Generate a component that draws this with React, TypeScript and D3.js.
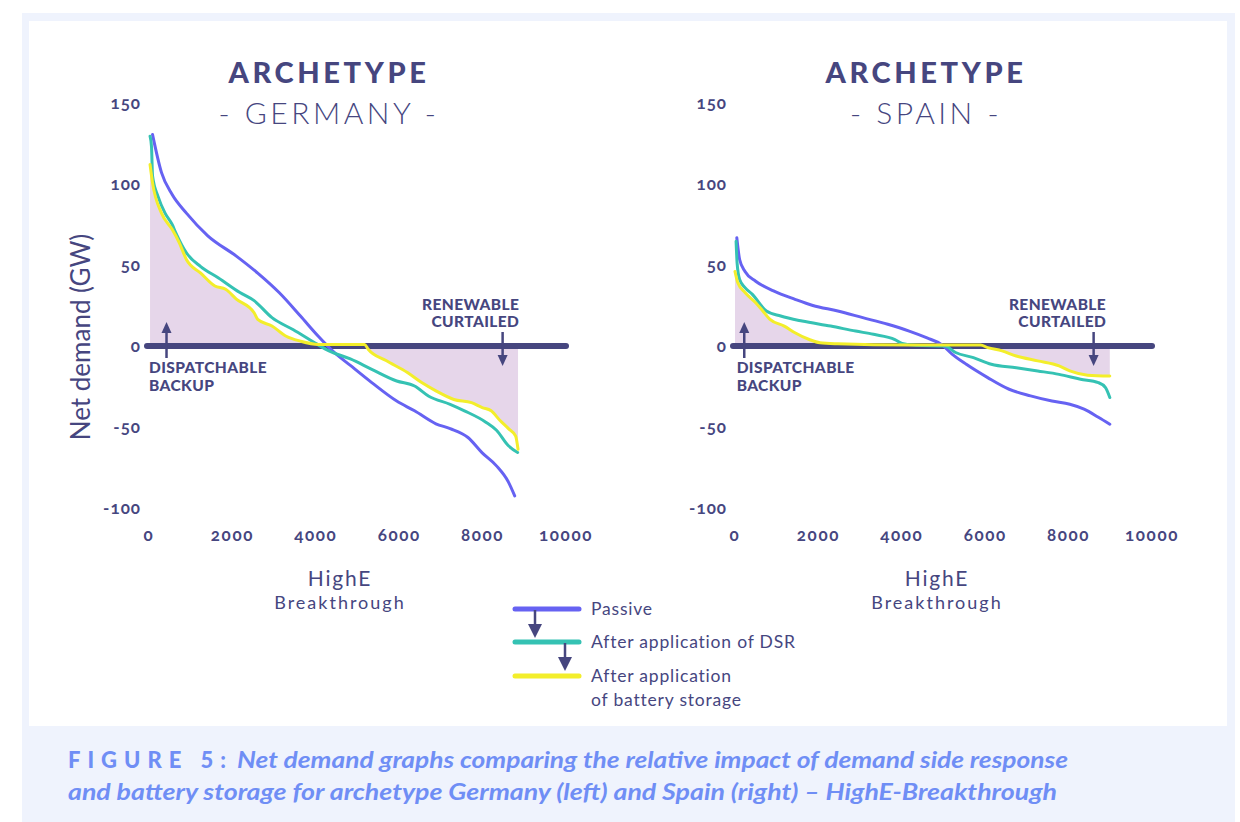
import React from "react";
import * as d3 from "d3";

// ---------- data ----------
const X_TICKS = [0, 2000, 4000, 6000, 8000, 10000];
const Y_TICKS = [150, 100, 50, 0, -50, -100];

// Germany
const DE_PASSIVE_X = [85, 300, 555, 897, 1410, 2094, 2607, 3120, 3632, 4060, 4402, 4829, 5342, 5940, 6368, 6880, 7222, 7650, 7991, 8333, 8620, 8770];
const DE_PASSIVE_Y = [130.5, 107, 93.5, 82, 68, 55.5, 45, 33, 18.5, 6, -3, -12, -22.6, -34, -40, -48, -51, -56.5, -66, -74, -84, -92.5];
const DE_DSR_X = [25, 60, 85, 214, 385, 555, 640, 897, 1240, 1667, 2180, 2521, 2949, 3462, 3974, 4316, 4829, 5342, 5940, 6368, 6710, 7222, 7564, 8077, 8333, 8620, 8840];
const DE_DSR_Y = [129.5, 123, 105, 92.5, 82, 75, 70, 57.5, 49, 42, 33, 28, 17.5, 10, 2, -3, -8, -14.4, -21.6, -24.7, -31, -36, -40, -47, -52, -61.6, -65.7];
const DE_BAT_X = [25, 85, 300, 555, 727, 897, 1240, 1581, 1838, 2094, 2521, 2607, 2949, 3291, 3632, 4060, 5171, 5256, 5684, 6197, 6539, 6880, 7308, 7735, 7991, 8205, 8419, 8620, 8790, 8850];
const DE_BAT_Y = [112, 100.7, 82, 72, 63.7, 53.4, 45, 37, 35, 29, 20.5, 16.4, 12.3, 6, 3, 1, 1, -2, -9, -16.4, -22.6, -27.7, -33, -35, -38, -40, -46, -51, -55.5, -63.7];

// Spain
const ES_PASSIVE_X = [43, 111, 240, 496, 924, 1438, 1866, 2465, 3064, 3664, 4177, 4605, 4948, 5205, 5547, 6060, 6574, 7088, 7601, 8029, 8371, 8714, 8988];
const ES_PASSIVE_Y = [66.8, 53.4, 46, 40, 34, 28.8, 25, 21.6, 17.5, 13.4, 9.2, 5, 1, -5, -11.3, -19.5, -26.7, -30.8, -34, -36, -39, -44, -48.3];
const ES_DSR_X = [26, 51, 111, 240, 411, 753, 1096, 1609, 2294, 2893, 3321, 3835, 4006, 4348, 5033, 5290, 5718, 6146, 6745, 7259, 7772, 8286, 8714, 8885, 8988];
const ES_DSR_Y = [64.7, 51, 41, 36, 32, 21.6, 18.5, 15.4, 12.3, 9.2, 7.2, 4, 1.6, 0.4, 0, -4, -7.2, -11.3, -13.4, -15.4, -17.5, -20.5, -22.6, -25.7, -31.8];
const ES_BAT_X = [0, 68, 240, 496, 668, 839, 1181, 1438, 1780, 2037, 2465, 4177, 5889, 6060, 6403, 6745, 7259, 7772, 8029, 8457, 8988];
const ES_BAT_Y = [46, 39, 33, 26.7, 21.6, 16.4, 12.3, 8.2, 4, 2, 1.4, 0.6, 0.6, -1, -3, -6.2, -9.2, -12.3, -15.4, -18, -18.5];

const LEGEND_LABELS = ["Passive", "After application of DSR", "After application", "of battery storage"];

// ---------- styles ----------
const NAVY = "#46467f";
const C_PASSIVE = "#6662f2";
const C_DSR = "#35c2b3";
const C_BAT = "#f3ee2b";
const C_FILL = "#e6d6ea";
const C_CAPTION = "#6f8ef5";
const FONT = "Lato, 'Open Sans', sans-serif";

type Pt = { x: number; y: number };
const zip = (xs: number[], ys: number[]): Pt[] => xs.map((x, i) => ({ x, y: ys[i] }));

type ChartProps = {
  x0: number;
  x1: number;
  cx: number;
  name: string;
  passive: Pt[];
  dsr: Pt[];
  bat: Pt[];
  upArrowX: number;
  downArrowX: number;
  curtailRight: number;
  backupLeft: number;
  showYLabel: boolean;
};

function Chart(p: ChartProps) {
  const x = d3.scaleLinear().domain([0, 10000]).range([p.x0, p.x1]);
  const y = d3.scaleLinear().domain([-100, 150]).range([508, 103]);
  const line = d3
    .line<Pt>()
    .x((d) => x(d.x))
    .y((d) => y(d.y))
    .curve(d3.curveMonotoneX);
  const area = d3
    .area<Pt>()
    .x((d) => x(d.x))
    .y0(y(0))
    .y1((d) => y(d.y))
    .curve(d3.curveMonotoneX);

  const ux = x(p.upArrowX);
  const dx = x(p.downArrowX);
  const y0 = y(0);
  const tickStyle = { fontVariantNumeric: "oldstyle-nums" as const };

  return (
    <g>
      {/* titles */}
      <text x={p.cx} y={83} textAnchor="middle" fontFamily={FONT} fontWeight={900} fontSize={29} letterSpacing={3.6} fill={NAVY}>
        ARCHETYPE
      </text>
      <text x={p.cx} y={124} textAnchor="middle" fontFamily={FONT} fontWeight={300} fontSize={30} letterSpacing={3.5} fill={NAVY}>
        {`- ${p.name} -`}
      </text>

      {/* y ticks */}
      {Y_TICKS.map((t) => (
        <text key={t} x={p.x0 - 8} y={y(t)} dy="0.35em" textAnchor="end" fontFamily={FONT} fontWeight={700} fontSize={17} letterSpacing={1} fill={NAVY} style={tickStyle}>
          {t}
        </text>
      ))}
      {/* x ticks */}
      {X_TICKS.map((t) => (
        <text key={t} x={x(t)} y={535} dy="0.35em" textAnchor="middle" fontFamily={FONT} fontWeight={700} fontSize={17} letterSpacing={1.6} fill={NAVY} style={tickStyle}>
          {t}
        </text>
      ))}

      {/* x label */}
      <text x={p.cx + 11} y={586} textAnchor="middle" fontFamily={FONT} fontSize={21} letterSpacing={1.8} fill={NAVY}>
        HighE
      </text>
      <text x={p.cx + 11} y={609} textAnchor="middle" fontFamily={FONT} fontSize={18} letterSpacing={2} fill={NAVY}>
        Breakthrough
      </text>

      {p.showYLabel && (
        <text transform={`translate(90,${337}) rotate(-90)`} textAnchor="middle" fontFamily={FONT} fontSize={26} fill={NAVY}>
          Net demand (GW)
        </text>
      )}

      {/* fill */}
      <path d={area(p.bat) || ""} fill={C_FILL} />

      {/* zero line */}
      <line x1={x(0) - 2} x2={x(10000)} y1={y0} y2={y0} stroke={NAVY} strokeWidth={6} strokeLinecap="round" />

      {/* curves */}
      <path d={line(p.passive) || ""} fill="none" stroke={C_PASSIVE} strokeWidth={3} strokeLinejoin="round" strokeLinecap="round" />
      <path d={line(p.dsr) || ""} fill="none" stroke={C_DSR} strokeWidth={3} strokeLinejoin="round" strokeLinecap="round" />
      <path d={line(p.bat) || ""} fill="none" stroke={C_BAT} strokeWidth={3} strokeLinejoin="round" strokeLinecap="round" />

      {/* dispatchable backup */}
      <line x1={ux} x2={ux} y1={y0 + 12} y2={y0 - 14} stroke={NAVY} strokeWidth={2.5} />
      <path d={`M${ux - 5},${y0 - 13} L${ux + 5},${y0 - 13} L${ux},${y0 - 24} Z`} fill={NAVY} />
      <text x={x(p.backupLeft)} y={373} fontFamily={FONT} fontWeight={900} fontSize={15.5} letterSpacing={0.4} fill={NAVY}>
        DISPATCHABLE
      </text>
      <text x={x(p.backupLeft)} y={391} fontFamily={FONT} fontWeight={900} fontSize={15.5} letterSpacing={0.4} fill={NAVY}>
        BACKUP
      </text>

      {/* renewable curtailed */}
      <text x={x(p.curtailRight)} y={310} textAnchor="end" fontFamily={FONT} fontWeight={900} fontSize={15.5} letterSpacing={0.4} fill={NAVY}>
        RENEWABLE
      </text>
      <text x={x(p.curtailRight)} y={327} textAnchor="end" fontFamily={FONT} fontWeight={900} fontSize={15.5} letterSpacing={0.4} fill={NAVY}>
        CURTAILED
      </text>
      <line x1={dx} x2={dx} y1={y0 - 14} y2={y0 + 10} stroke={NAVY} strokeWidth={2.5} />
      <path d={`M${dx - 5},${y0 + 9} L${dx + 5},${y0 + 9} L${dx},${y0 + 20} Z`} fill={NAVY} />
    </g>
  );
}

function Legend() {
  const lx0 = 515;
  const lx1 = 579;
  const ys = [609, 642, 676];
  const colors = [C_PASSIVE, C_DSR, C_BAT];
  const ts = { fontFamily: FONT, fontSize: 17.5, letterSpacing: 0.8, fill: NAVY };
  return (
    <g>
      {ys.map((yy, i) => (
        <line key={i} x1={lx0} x2={lx1} y1={yy} y2={yy} stroke={colors[i]} strokeWidth={5} strokeLinecap="round" />
      ))}
      {/* arrows */}
      <line x1={535} x2={535} y1={610} y2={626} stroke={NAVY} strokeWidth={2.5} />
      <path d="M528,624 L542,624 L535,638 Z" fill={NAVY} />
      <line x1={565} x2={565} y1={643} y2={659} stroke={NAVY} strokeWidth={2.5} />
      <path d="M558,657 L572,657 L565,671 Z" fill={NAVY} />
      <text x={591} y={615} {...ts}>{LEGEND_LABELS[0]}</text>
      <text x={591} y={648} {...ts}>{LEGEND_LABELS[1]}</text>
      <text x={591} y={682} {...ts}>{LEGEND_LABELS[2]}</text>
      <text x={591} y={706} {...ts}>{LEGEND_LABELS[3]}</text>
    </g>
  );
}

export default function App() {
  return (
    <svg width={1240} height={822} style={{ position: "absolute", left: 0, top: 0, display: "block" }}>
      <rect x={0} y={0} width={1240} height={822} fill="#ffffff" />
      <rect x={22} y={13} width={1213} height={809} fill="#eff3fd" />
      <rect x={29} y={21} width={1198} height={705} fill="#ffffff" />

      <Chart
        x0={149}
        x1={566}
        cx={329}
        name="GERMANY"
        passive={zip(DE_PASSIVE_X, DE_PASSIVE_Y)}
        dsr={zip(DE_DSR_X, DE_DSR_Y)}
        bat={zip(DE_BAT_X, DE_BAT_Y)}
        upArrowX={420}
        downArrowX={8480}
        curtailRight={8880}
        backupLeft={0}
        showYLabel={true}
      />
      <Chart
        x0={735}
        x1={1152}
        cx={926}
        name="SPAIN"
        passive={zip(ES_PASSIVE_X, ES_PASSIVE_Y)}
        dsr={zip(ES_DSR_X, ES_DSR_Y)}
        bat={zip(ES_BAT_X, ES_BAT_Y)}
        upArrowX={222}
        downArrowX={8600}
        curtailRight={8900}
        backupLeft={40}
        showYLabel={false}
      />
      <Legend />

      {/* caption */}
      <text x={68} y={768} fontFamily={FONT} fontWeight={900} fontSize={22} letterSpacing={7} fill={C_CAPTION}>
        FIGURE 5:
      </text>
      <text x={237} y={768} fontFamily={FONT} fontStyle="italic" fontWeight={700} fontSize={22} fill={C_CAPTION} textLength={831} lengthAdjust="spacingAndGlyphs">
        Net demand graphs comparing the relative impact of demand side response
      </text>
      <text x={68} y={800} fontFamily={FONT} fontStyle="italic" fontWeight={700} fontSize={22} fill={C_CAPTION} textLength={989} lengthAdjust="spacingAndGlyphs">
        and battery storage for archetype Germany (left) and Spain (right) – HighE-Breakthrough
      </text>
    </svg>
  );
}
